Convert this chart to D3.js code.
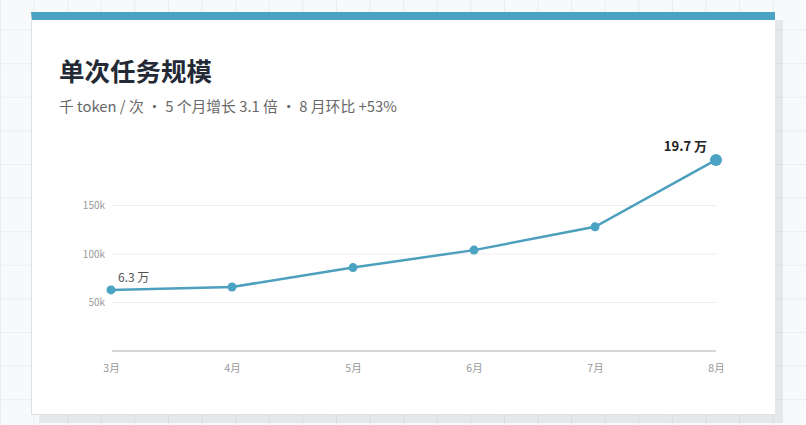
<!DOCTYPE html>
<html>
<head>
<meta charset="utf-8">
<script src="https://cdn.jsdelivr.net/npm/d3@7"></script>
<style>
  html, body { margin: 0; padding: 0; }
  body {
    width: 806px; height: 425px; overflow: hidden; position: relative;
    background-color: #f7f9fa;
    background-image:
      linear-gradient(to right, #e9eef0 1px, transparent 1px),
      linear-gradient(to bottom, #e9eef0 1px, transparent 1px);
    background-size: 33.6px 33.6px;
    background-position: 0 -4px;
    font-family: "Noto Sans CJK SC", "Noto Sans", sans-serif;
  }
  .card {
    position: absolute; left: 31px; top: 12px; width: 743px; height: 394px;
    background: #fff; border-top: 8px solid #4aa3c4;
    border-left: 1px solid #dde1e4; border-bottom: 1px solid #dde1e4;
    box-shadow: 8px 8px 0 rgba(40, 70, 90, 0.09);
  }
  svg { position: absolute; left: 0; top: 0; }
</style>
</head>
<body>
<div class="card"></div>
<div id="chart"></div>
<script>
var months = ["3月", "4月", "5月", "6月", "7月", "8月"]
var tokens = [63000, 66000, 86000, 104000, 128000, 197000]
var yTicks = [50000, 100000, 150000]
var title = "单次任务规模"
var subtitle = "千 token / 次 · 5 个月增长 3.1 倍 · 8 月环比 +53%"

var data = months.map(function(m, i){ return {month: m, value: tokens[i]} })

var svg = d3.select("#chart")
  .append("svg")
    .attr("width", 806)
    .attr("height", 425)

svg.append("text")
  .attr("x", 59).attr("y", 81)
  .style("font-size", "25.5px").style("font-weight", "bold")
  .style("fill", "#232a35")
  .text(title)

svg.append("text")
  .attr("x", 59).attr("y", 112)
  .style("font-size", "14.8px")
  .style("fill", "#686868")
  .text(subtitle)

var x = d3.scalePoint()
  .domain(months)
  .range([111, 716])

var y = d3.scaleLinear()
  .domain([0, 200000])
  .range([351, 157])

// gridlines
svg.append("g")
  .selectAll("line")
  .data(yTicks)
  .enter().append("line")
    .attr("x1", 112).attr("x2", 716)
    .attr("y1", function(d){ return y(d) })
    .attr("y2", function(d){ return y(d) })
    .attr("stroke", "#ededed")
    .attr("stroke-width", 1)

// y labels
svg.append("g")
  .selectAll("text")
  .data(yTicks)
  .enter().append("text")
    .attr("x", 105)
    .attr("y", function(d){ return y(d) })
    .attr("dy", ".35em")
    .attr("text-anchor", "end")
    .style("font-size", "10px")
    .style("fill", "#999")
    .text(function(d){ return d3.format("~s")(d) })

// x axis
var xAxis = svg.append("g")
  .attr("transform", "translate(0,351)")
  .call(d3.axisBottom(x).tickSize(0).tickPadding(14))
xAxis.select(".domain").attr("stroke", "#c9c9c9").attr("stroke-width", 1.5)
  .attr("d", "M112,0H716")
xAxis.selectAll("text")
  .style("font-size", "10.5px")
  .style("font-family", "Noto Sans CJK SC, sans-serif")
  .style("fill", "#999")

svg.append("path")
  .datum(data)
  .attr("fill", "none")
  .attr("stroke", "#4d9fbe")
  .attr("stroke-width", 2.5)
  .attr("d", d3.line()
    .x(function(d){ return x(d.month) })
    .y(function(d){ return y(d.value) })
  )

svg.append("g")
  .selectAll("circle")
  .data(data)
  .enter().append("circle")
    .attr("cx", function(d){ return x(d.month) })
    .attr("cy", function(d){ return y(d.value) })
    .attr("r", function(d, i){ return i == data.length - 1 ? 6 : 4.5 })
    .style("fill", "#4ba3c4")

var first = data[0], last = data[data.length - 1]
svg.append("text")
  .attr("x", x(first.month) + 7)
  .attr("y", y(first.value) - 12)
  .attr("dy", ".35em")
  .style("font-size", "12px")
  .style("fill", "#555")
  .text((first.value / 10000).toFixed(1) + " 万")

svg.append("text")
  .attr("x", x(last.month) - 9)
  .attr("y", y(last.value) - 13)
  .attr("dy", ".35em")
  .attr("text-anchor", "end")
  .style("font-size", "13px")
  .style("font-weight", "bold")
  .style("fill", "#222")
  .text((last.value / 10000).toFixed(1) + " 万")
</script>
</body>
</html>
